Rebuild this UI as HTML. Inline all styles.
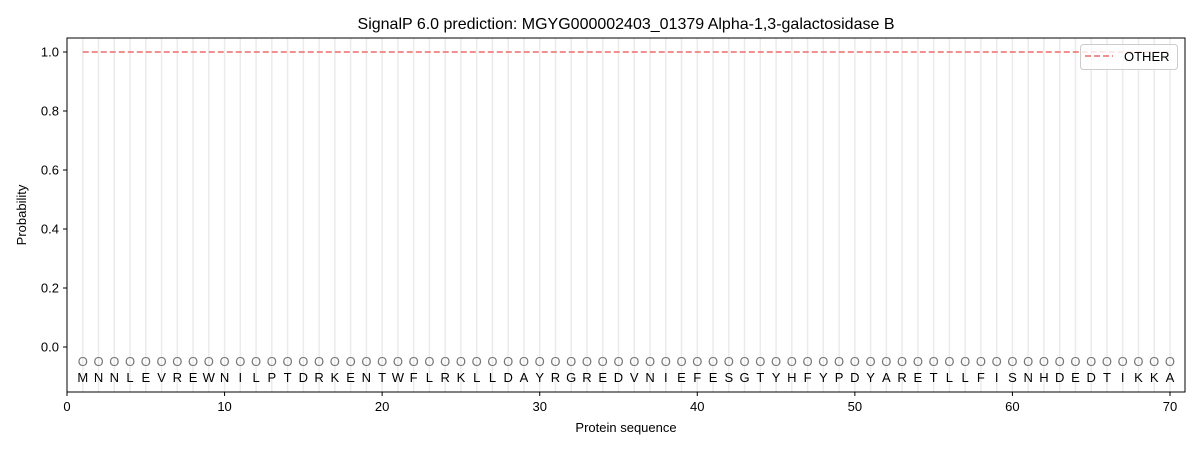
<!DOCTYPE html>
<html><head><style>body{margin:0;background:#fff}svg{display:block;font-family:"Liberation Sans","DejaVu Sans",sans-serif}</style></head><body>
<svg width="1200" height="450" viewBox="0 0 1200 450" xmlns="http://www.w3.org/2000/svg">
<rect width="1200" height="450" fill="#fff"/>
<g stroke="#ebebeb" stroke-width="1.5">
<path id="g" d="M82.76 38V392M98.51 38V392M114.27 38V392M130.03 38V392M145.79 38V392M161.54 38V392M177.30 38V392M193.06 38V392M208.81 38V392M224.57 38V392M240.33 38V392M256.08 38V392M271.84 38V392M287.60 38V392M303.36 38V392M319.11 38V392M334.87 38V392M350.63 38V392M366.38 38V392M382.14 38V392M397.90 38V392M413.65 38V392M429.41 38V392M445.17 38V392M460.93 38V392M476.68 38V392M492.44 38V392M508.20 38V392M523.95 38V392M539.71 38V392M555.47 38V392M571.22 38V392M586.98 38V392M602.74 38V392M618.50 38V392M634.25 38V392M650.01 38V392M665.77 38V392M681.52 38V392M697.28 38V392M713.04 38V392M728.79 38V392M744.55 38V392M760.31 38V392M776.07 38V392M791.82 38V392M807.58 38V392M823.34 38V392M839.09 38V392M854.85 38V392M870.61 38V392M886.36 38V392M902.12 38V392M917.88 38V392M933.64 38V392M949.39 38V392M965.15 38V392M980.91 38V392M996.66 38V392M1012.42 38V392M1028.18 38V392M1043.93 38V392M1059.69 38V392M1075.45 38V392M1091.21 38V392M1106.96 38V392M1122.72 38V392M1138.48 38V392M1154.23 38V392M1169.99 38V392"/>
</g>
<line x1="82.76" y1="52" x2="1169.99" y2="52" stroke="#f08080" stroke-width="1.8" stroke-dasharray="6,3"/>
<g font-size="13" text-anchor="middle">
<text y="366" fill="#777" x="82.76 98.51 114.27 130.03 145.79 161.54 177.30 193.06 208.81 224.57 240.33 256.08 271.84 287.60 303.36 319.11 334.87 350.63 366.38 382.14 397.90 413.65 429.41 445.17 460.93 476.68 492.44 508.20 523.95 539.71 555.47 571.22 586.98 602.74 618.50 634.25 650.01 665.77 681.52 697.28 713.04 728.79 744.55 760.31 776.07 791.82 807.58 823.34 839.09 854.85 870.61 886.36 902.12 917.88 933.64 949.39 965.15 980.91 996.66 1012.42 1028.18 1043.93 1059.69 1075.45 1091.21 1106.96 1122.72 1138.48 1154.23 1169.99">OOOOOOOOOOOOOOOOOOOOOOOOOOOOOOOOOOOOOOOOOOOOOOOOOOOOOOOOOOOOOOOOOOOOOO</text>
<text y="382" fill="#000" x="82.76 98.51 114.27 130.03 145.79 161.54 177.30 193.06 208.81 224.57 240.33 256.08 271.84 287.60 303.36 319.11 334.87 350.63 366.38 382.14 397.90 413.65 429.41 445.17 460.93 476.68 492.44 508.20 523.95 539.71 555.47 571.22 586.98 602.74 618.50 634.25 650.01 665.77 681.52 697.28 713.04 728.79 744.55 760.31 776.07 791.82 807.58 823.34 839.09 854.85 870.61 886.36 902.12 917.88 933.64 949.39 965.15 980.91 996.66 1012.42 1028.18 1043.93 1059.69 1075.45 1091.21 1106.96 1122.72 1138.48 1154.23 1169.99">MNNLEVREWNILPTDRKENTWFLRKLLDAYRGREDVNIEFESGTYHFYPDYARETLLFISNHDEDTIKKA</text>
</g>
<rect x="67" y="38" width="1118" height="354" fill="none" stroke="#000" stroke-width="1"/>
<g stroke="#000">
<path d="M67 392v4M224.57 392v4M382.14 392v4M539.71 392v4M697.28 392v4M854.85 392v4M1012.42 392v4M1169.99 392v4M67 52h-4M67 111h-4M67 170h-4M67 229h-4M67 288h-4M67 347h-4"/>
</g>
<g font-size="13" fill="#000">
<g text-anchor="middle">
<text x="67" y="411">0</text><text x="224.57" y="411">10</text><text x="382.14" y="411">20</text><text x="539.71" y="411">30</text><text x="697.28" y="411">40</text><text x="854.85" y="411">50</text><text x="1012.42" y="411">60</text><text x="1169.99" y="411">70</text>
<text x="626" y="432">Protein sequence</text>
</g>
<g text-anchor="end">
<text x="59" y="56.5">1.0</text><text x="59" y="115.5">0.8</text><text x="59" y="174.5">0.6</text><text x="59" y="233.5">0.4</text><text x="59" y="292.5">0.2</text><text x="59" y="351.5">0.0</text>
</g>
<text transform="translate(26,215) rotate(-90)" text-anchor="middle">Probability</text>
<text x="626" y="29" font-size="16" text-anchor="middle">SignalP 6.0 prediction: MGYG000002403_01379 Alpha-1,3-galactosidase B</text>
</g>
<rect x="1080.5" y="44.5" width="97" height="25" rx="3" fill="#fff" fill-opacity="0.8" stroke="#ccc"/>
<line x1="1085" y1="56" x2="1113" y2="56" stroke="#f08080" stroke-width="1.8" stroke-dasharray="6,3"/>
<text x="1124" y="61" font-size="13">OTHER</text>
</svg>
</body></html>
